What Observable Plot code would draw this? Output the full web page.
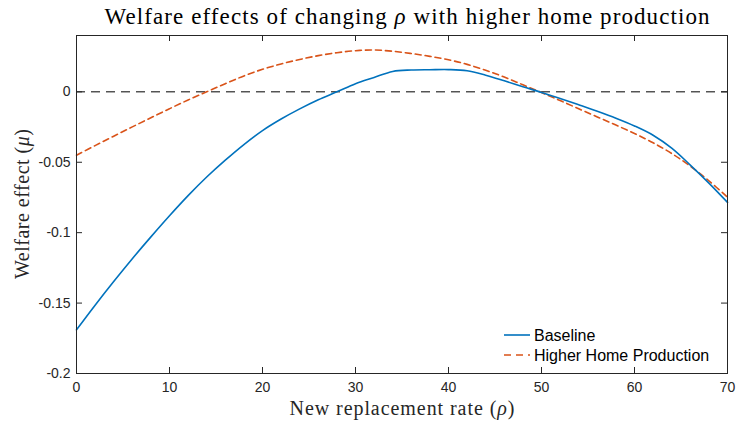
<!DOCTYPE html>
<html>
<head>
<meta charset="utf-8">
<script src="https://cdn.jsdelivr.net/npm/d3@7"></script>
<script src="https://cdn.jsdelivr.net/npm/@observablehq/plot@0.6"></script>
<style>
  html, body { margin: 0; padding: 0; background: #fff; }
  #chart { width: 737px; height: 423px; }
</style>
</head>
<body>
<div id="chart"></div>
<script>
// Replacement rate (x) and welfare effects
const rho = [0, 2, 4, 6, 8, 10, 12, 14, 16, 18, 20, 22, 24, 26, 28, 30, 32, 34, 36,
             38, 40, 42, 44, 46, 48, 50, 52, 54, 56, 58, 60, 62, 64, 66, 68, 70];
const baseline = [-0.169, -0.1515, -0.1347, -0.1185, -0.103, -0.088, -0.0737, -0.0605, -0.0485,
                  -0.0374, -0.0275, -0.0193, -0.0121, -0.0056, 0.000, 0.0058, 0.0102, 0.0145,
                  0.0155, 0.0157, 0.0158, 0.0150, 0.0118, 0.0078, 0.0036, -0.0004, -0.0047,
                  -0.0092, -0.0138, -0.0187, -0.0242, -0.0308, -0.0400, -0.0520, -0.0648, -0.0785];
const higherHome = [-0.045, -0.0382, -0.0315, -0.0249, -0.0184, -0.0120, -0.0058, 0.0000, 0.0058,
                    0.0113, 0.0160, 0.0198, 0.0230, 0.0257, 0.0278, 0.0292, 0.0297, 0.0288, 0.0272,
                    0.0252, 0.0228, 0.0195, 0.0153, 0.0105, 0.0050, -0.0005, -0.0062, -0.0120,
                    -0.0178, -0.0236, -0.0296, -0.0362, -0.0438, -0.0528, -0.0632, -0.0748];
const xTicks = [0, 10, 20, 30, 40, 50, 60, 70];
const yTicks = [-0.2, -0.15, -0.1, -0.05, 0];
const yTickLabels = ["-0.2", "-0.15", "-0.1", "-0.05", "0"];
const seriesNames = ["Baseline", "Higher Home Production"];

const dataBase = rho.map((x, i) => ({x, y: baseline[i]}));
const dataHome = rho.map((x, i) => ({x, y: higherHome[i]}));

const BLUE = "#0072BD", ORANGE = "#D95319", AXIS = "#262626";
const tickFont = "'Liberation Sans', Arial, sans-serif";
const yFmt = d => yTickLabels[yTicks.indexOf(d)] ?? String(d);

const W = 737, H = 423, ML = 76, MR = 10, MT = 35, MB = 50;
const TICK = 6;
const frameW = W - ML - MR, frameH = H - MT - MB;

const plot = Plot.plot({
  width: W,
  height: H,
  marginLeft: ML,
  marginRight: MR,
  marginTop: MT,
  marginBottom: MB,
  style: {fontFamily: tickFont, fontSize: "14px", color: "#262626", background: "white"},
  x: {domain: [0, 70]},
  y: {domain: [-0.2, 0.04]},
  marks: [
    Plot.ruleY([0], {stroke: "black", strokeWidth: 1, strokeDasharray: "9,6"}),
    Plot.line(dataHome, {x: "x", y: "y", stroke: ORANGE, strokeWidth: 1.6, strokeDasharray: "6,4", curve: "catmull-rom"}),
    Plot.line(dataBase, {x: "x", y: "y", stroke: BLUE, strokeWidth: 1.6, curve: "catmull-rom"}),
    Plot.frame({stroke: AXIS, strokeWidth: 1}),
    // inward ticks on all four sides
    Plot.tickX(xTicks, {x: d => d, stroke: AXIS, strokeWidth: 1, insetTop: frameH - TICK}),
    Plot.tickX(xTicks, {x: d => d, stroke: AXIS, strokeWidth: 1, insetBottom: frameH - TICK}),
    Plot.tickY(yTicks, {y: d => d, stroke: AXIS, strokeWidth: 1, insetRight: frameW - TICK}),
    Plot.tickY(yTicks, {y: d => d, stroke: AXIS, strokeWidth: 1, insetLeft: frameW - TICK}),
    // tick labels
    Plot.axisX(xTicks, {anchor: "bottom", tickSize: 0, tickPadding: 9, label: null, fill: "#262626", fontSize: 14}),
    Plot.axisY(yTicks, {anchor: "left", tickSize: 0, tickPadding: 6, tickFormat: yFmt, label: null, fill: "#262626", fontSize: 14})
  ]
});

document.getElementById("chart").appendChild(plot);

const svg = d3.select(plot);
const serif = "'Liberation Serif', 'DejaVu Serif', serif";

// Title
const title = svg.append("text")
  .attr("x", 407).attr("y", 24)
  .attr("text-anchor", "middle")
  .attr("font-family", serif).attr("font-size", 23).attr("fill", "#000")
  .attr("textLength", 605).attr("lengthAdjust", "spacing");
title.append("tspan").text("Welfare effects of changing ");
title.append("tspan").attr("font-style", "italic").text("ρ");
title.append("tspan").text(" with higher home production");

// X label
const xl = svg.append("text")
  .attr("x", 402).attr("y", 415)
  .attr("text-anchor", "middle")
  .attr("font-family", serif).attr("font-size", 20).attr("fill", "#262626")
  .attr("textLength", 225).attr("lengthAdjust", "spacing");
xl.append("tspan").text("New replacement rate (");
xl.append("tspan").attr("font-style", "italic").text("ρ");
xl.append("tspan").text(")");

// Y label
const yl = svg.append("text")
  .attr("transform", "translate(29,204) rotate(-90)")
  .attr("text-anchor", "middle")
  .attr("font-family", serif).attr("font-size", 20).attr("fill", "#262626")
  .attr("textLength", 150).attr("lengthAdjust", "spacing");
yl.append("tspan").text("Welfare effect (");
yl.append("tspan").attr("font-style", "italic").text("μ");
yl.append("tspan").text(")");

// Legend
const legend = svg.append("g")
  .attr("font-family", tickFont).attr("font-size", 16).attr("fill", "#000")
  .attr("text-anchor", "start");
const legendItems = [
  {name: seriesNames[0], color: BLUE, dash: null, y: 335},
  {name: seriesNames[1], color: ORANGE, dash: "7,5", y: 355}
];
legendItems.forEach(it => {
  const ln = legend.append("line")
    .attr("x1", 504).attr("x2", 530).attr("y1", it.y).attr("y2", it.y)
    .attr("stroke", it.color).attr("stroke-width", 1.6);
  if (it.dash) ln.attr("stroke-dasharray", it.dash);
  legend.append("text")
    .attr("x", 534).attr("y", it.y).attr("dy", "0.35em")
    .attr("text-anchor", "start")
    .text(it.name);
});
</script>
</body>
</html>
